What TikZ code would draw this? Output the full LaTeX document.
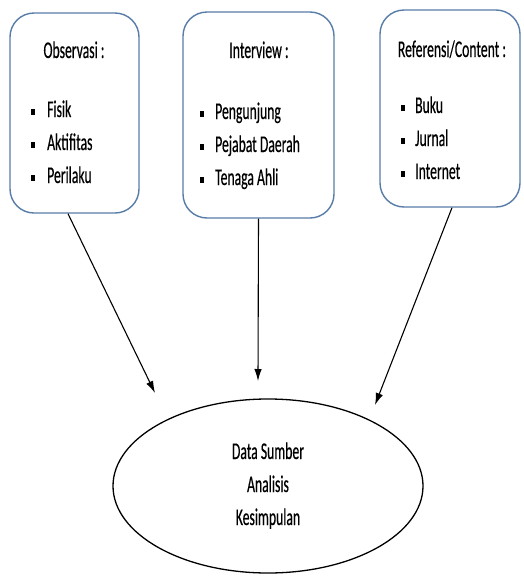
\documentclass[tikz,border=0pt]{standalone}
\usepackage{fontspec}
\setmainfont[FakeStretch=0.57,FakeBold=0.4]{Carlito}
\usetikzlibrary{arrows.meta,shapes.geometric,calc}
\definecolor{boxblue}{RGB}{88,124,168}
\begin{document}
\begin{tikzpicture}[x=1pt,y=-1pt,
  srcbox/.style={draw=boxblue,line width=1.4pt,rounded corners=24pt,inner sep=0pt},
  txt/.style={inner sep=0pt,font=\fontsize{24}{33}\selectfont},
  bul/.style={fill=black,inner sep=0pt,minimum width=4.4pt,minimum height=6pt},
  arr/.style={line width=1.1pt,-{Latex[length=12pt,width=7.5pt]}}]
\useasboundingbox (0,0) rectangle (523,576);
% boxes
\node[srcbox,minimum width=129pt,minimum height=200pt] (b1) at (74.5,113) {};
\node[srcbox,minimum width=151pt,minimum height=206pt] (b2) at (258.5,115) {};
\node[srcbox,minimum width=140pt,minimum height=197pt] (b3) at (450,108.5) {};
% ellipse
\node[draw,ellipse,line width=1.3pt,inner sep=0pt,minimum width=310pt,minimum height=174pt] (e) at (268,486) {};
% box 1 text
\node[txt,anchor=base] (t1) at (74,58) {Observasi :};
\node[bul] (p11) at (33,112) {}; \node[txt,anchor=base west] (i11) at (47,117) {Fisik};
\node[bul] (p12) at (33,145) {}; \node[txt,anchor=base west] (i12) at (47,150) {Aktifitas};
\node[bul] (p13) at (33,178) {}; \node[txt,anchor=base west] (i13) at (47,183) {Perilaku};
% box 2 text
\node[txt,anchor=base] (t2) at (259,58) {Interview :};
\node[bul] (p21) at (202,114) {}; \node[txt,anchor=base west] (i21) at (215,119) {Pengunjung};
\node[bul] (p22) at (202,147) {}; \node[txt,anchor=base west] (i22) at (215,152) {Pejabat Daerah};
\node[bul] (p23) at (202,180) {}; \node[txt,anchor=base west] (i23) at (215,185) {Tenaga Ahli};
% box 3 text
\node[txt,anchor=base] (t3) at (452,57) {Referensi/Content :};
\node[bul] (p31) at (403,108) {}; \node[txt,anchor=base west] (i31) at (415,113) {Buku};
\node[bul] (p32) at (403,141) {}; \node[txt,anchor=base west] (i32) at (415,146) {Jurnal};
\node[bul] (p33) at (403,174) {}; \node[txt,anchor=base west] (i33) at (415,179) {Internet};
% ellipse text
\node[txt,anchor=base] (d1) at (268,459) {Data Sumber};
\node[txt,anchor=base] (d2) at (268,492) {Analisis};
\node[txt,anchor=base] (d3) at (268,525) {Kesimpulan};
% arrow ends
\coordinate (s1) at ($(b1.south)+(-6.5,0)$);
\coordinate (s2) at ($(b2.south)+(0,0)$);
\coordinate (s3) at ($(b3.south)+(2,0)$);
\coordinate (h1) at (155,393);
\coordinate (h2) at (258,381);
\coordinate (h3) at (375,405);
\draw[arr] (s1) -- (h1);
\draw[arr] (s2) -- (h2);
\draw[arr] (s3) -- (h3);
\end{tikzpicture}
\end{document}
